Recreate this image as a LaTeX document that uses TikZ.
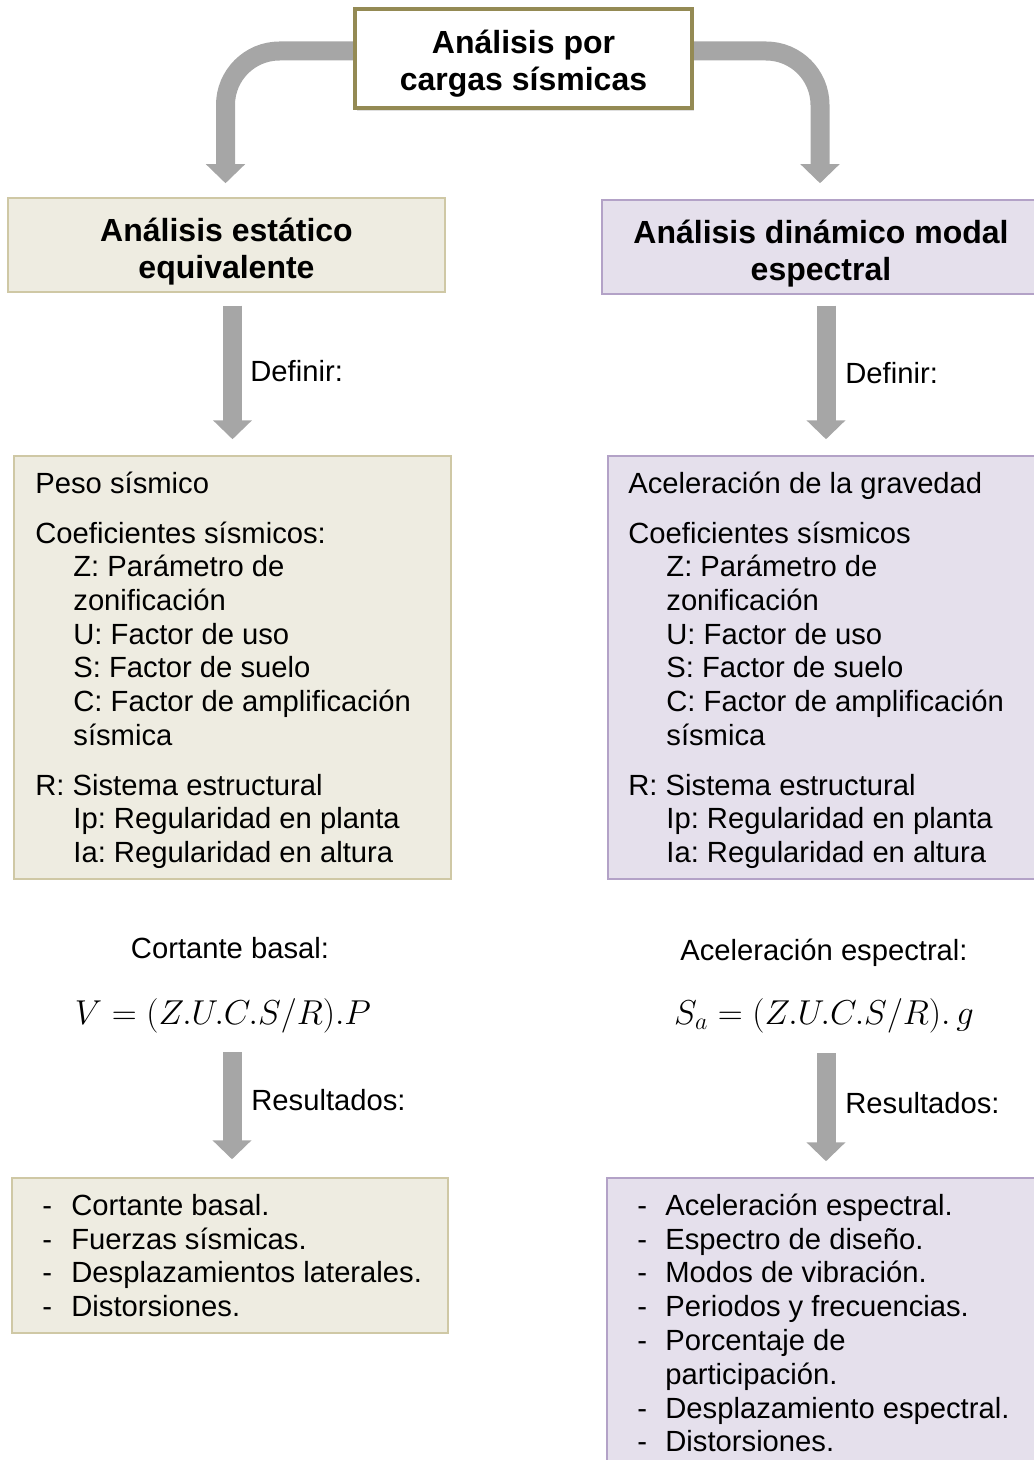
\documentclass[tikz,border=0pt]{standalone}
\usepackage{fontspec}
\setmainfont{Liberation Sans}
\usetikzlibrary{arrows.meta,calc,shadows,backgrounds}
\definecolor{beigefill}{HTML}{EEECE1}
\definecolor{beigeline}{HTML}{CFC8A5}
\definecolor{lavfill}{HTML}{E5E0EC}
\definecolor{lavline}{HTML}{B3A2C7}
\definecolor{topline}{HTML}{948A54}
\definecolor{arrowgray}{HTML}{A6A6A6}
\newcommand\resitem[5]{\node[txt] (#1-d) at (#2,#4) {-};\node[txt] (#1) at (#3,#4) {#5};}
\frenchspacing
\begin{document}
\begin{tikzpicture}[x=0.5pt,y=-0.5pt,
  bodyfont/.style={font=\frenchspacing\fontsize{14.6pt}{16.75pt}\selectfont},
  txt/.style={bodyfont, anchor=base west, inner sep=0pt},
  ctxt/.style={bodyfont, anchor=base, inner sep=0pt},
  mathtxt/.style={font=\fontsize{17.28pt}{20pt}\selectfont, anchor=base, inner sep=0pt},
  title/.style={font=\bfseries\fontsize{16pt}{18.5pt}\selectfont, align=center, inner sep=0pt},
  bigarrow/.style={draw=arrowgray, line width=9.5pt, -{Triangle[width=19pt,length=9.5pt]}},
  beigebox/.style={draw=beigeline, fill=beigefill, line width=0.75pt, inner sep=0pt},
  lavbox/.style={draw=lavline, fill=lavfill, line width=0.75pt, inner sep=0pt},
  topbox/.style={draw=topline, fill=white, line width=2pt, inner sep=0pt,
    drop shadow={opacity=0.25, shadow xshift=1.2pt, shadow yshift=-1.5pt}},
]
\useasboundingbox (0,0) rectangle (1033,1460);

% ---- boxes ----
\node[topbox, minimum width=168.5pt, minimum height=49.5pt] (top) at (523.5,58.5) {};
\node[beigebox, minimum width=218.5pt, minimum height=47pt] (est) at (226.5,245) {};
\node[lavbox, minimum width=219pt, minimum height=47pt] (dyn) at (821,247) {};
\node[beigebox, minimum width=218.5pt, minimum height=211.5pt] (estdef) at (232.5,667.5) {};
\node[lavbox, minimum width=216pt, minimum height=211.5pt] (dyndef) at (824,667.5) {};
\node[beigebox, minimum width=218pt, minimum height=77.5pt] (estres) at (230,1255.5) {};
\node[lavbox, minimum width=216.5pt, minimum height=146pt] (dynres) at (823.5,1324) {};

% ---- titles ----
\node[title] (toptxt) at ($(top.center)+(0,5)$) {Análisis por\\cargas sísmicas};
\node[title] (esttxt) at ($(est.center)+(0,7)$) {Análisis estático\\equivalente};
\node[title] (dyntxt) at ($(dyn.center)+(0,7)$) {Análisis dinámico modal\\espectral};

% ---- left definitions ----
\node[txt] (l1) at (35,493) {Peso sísmico};
\node[txt] (l2) at (35,543) {Coeficientes sísmicos:};
\node[txt] (l3) at (73,576) {Z: Parámetro de};
\node[txt] (l4) at (73,610) {zonificación};
\node[txt] (l5) at (73,644) {U: Factor de uso};
\node[txt] (l6) at (73,677) {S: Factor de suelo};
\node[txt] (l7) at (73,711) {C: Factor de amplificación};
\node[txt] (l8) at (73,745) {sísmica};
\node[txt] (l9) at (35,795) {R: Sistema estructural};
\node[txt] (l10) at (73,828) {Ip: Regularidad en planta};
\node[txt] (l11) at (73,862) {Ia: Regularidad en altura};

% ---- right definitions ----
\node[txt] (r1) at (628,493) {Aceleración de la gravedad};
\node[txt] (r2) at (628,543) {Coeficientes sísmicos};
\node[txt] (r3) at (666,576) {Z: Parámetro de};
\node[txt] (r4) at (666,610) {zonificación};
\node[txt] (r5) at (666,644) {U: Factor de uso};
\node[txt] (r6) at (666,677) {S: Factor de suelo};
\node[txt] (r7) at (666,711) {C: Factor de amplificación};
\node[txt] (r8) at (666,745) {sísmica};
\node[txt] (r9) at (628,795) {R: Sistema estructural};
\node[txt] (r10) at (666,828) {Ip: Regularidad en planta};
\node[txt] (r11) at (666,862) {Ia: Regularidad en altura};

% ---- labels ----
\node[txt] (defL) at (250,381) {Definir:};
\node[txt] (defR) at (845,383) {Definir:};
\node[ctxt] (cortL) at (230,958) {Cortante basal:};
\node[ctxt] (acelR) at (824,960) {Aceleración espectral:};
\node[mathtxt] (formL) at (223,1024) {$V=(Z.U.C.S/R).P$};
\node[mathtxt] (formR) at (824,1024) {$S_a=(Z.U.C.S/R).\,g$};
\node[txt] (resLlab) at (251,1110) {Resultados:};
\node[txt] (resRlab) at (845,1113) {Resultados:};

% ---- results ----
\resitem{a1}{42}{71}{1215}{Cortante basal.}
\resitem{a2}{42}{71}{1249}{Fuerzas sísmicas.}
\resitem{a3}{42}{71}{1282}{Desplazamientos laterales.}
\resitem{a4}{42}{71}{1316}{Distorsiones.}

\resitem{b1}{637}{665}{1215}{Aceleración espectral.}
\resitem{b2}{637}{665}{1249}{Espectro de diseño.}
\resitem{b3}{637}{665}{1282}{Modos de vibración.}
\resitem{b4}{637}{665}{1316}{Periodos y frecuencias.}
\resitem{b5}{637}{665}{1350}{Porcentaje de}
\node[txt] (b5b) at (665,1384) {participación.};
\resitem{b6}{637}{665}{1418}{Desplazamiento espectral.}
\resitem{b7}{637}{665}{1451}{Distorsiones.}

% ---- arrows ----
\coordinate (resLstart) at (232,1052);
\coordinate (resRstart) at (826,1053);
\begin{scope}[on background layer]
\draw[bigarrow, rounded corners=27pt] ($(top.west)+(20,-7.5)$) -| ($(est.north)+(-1,-14)$);
\draw[bigarrow, rounded corners=27pt] ($(top.east)+(-20,-7.5)$) -| ($(dyn.north)+(-1,-16)$);
\end{scope}
\draw[bigarrow] ($(est.south -| estdef.north)+(0,13)$) -- ($(estdef.north)+(0,-16)$);
\draw[bigarrow] ($(dyn.south -| dyndef.north)+(2,11)$) -- ($(dyndef.north)+(2,-16)$);
\draw[bigarrow] (resLstart) -- ($(estres.north)+(2,-18)$);
\draw[bigarrow] (resRstart) -- ($(dynres.north)+(2.5,-16)$);
\end{tikzpicture}
\end{document}
